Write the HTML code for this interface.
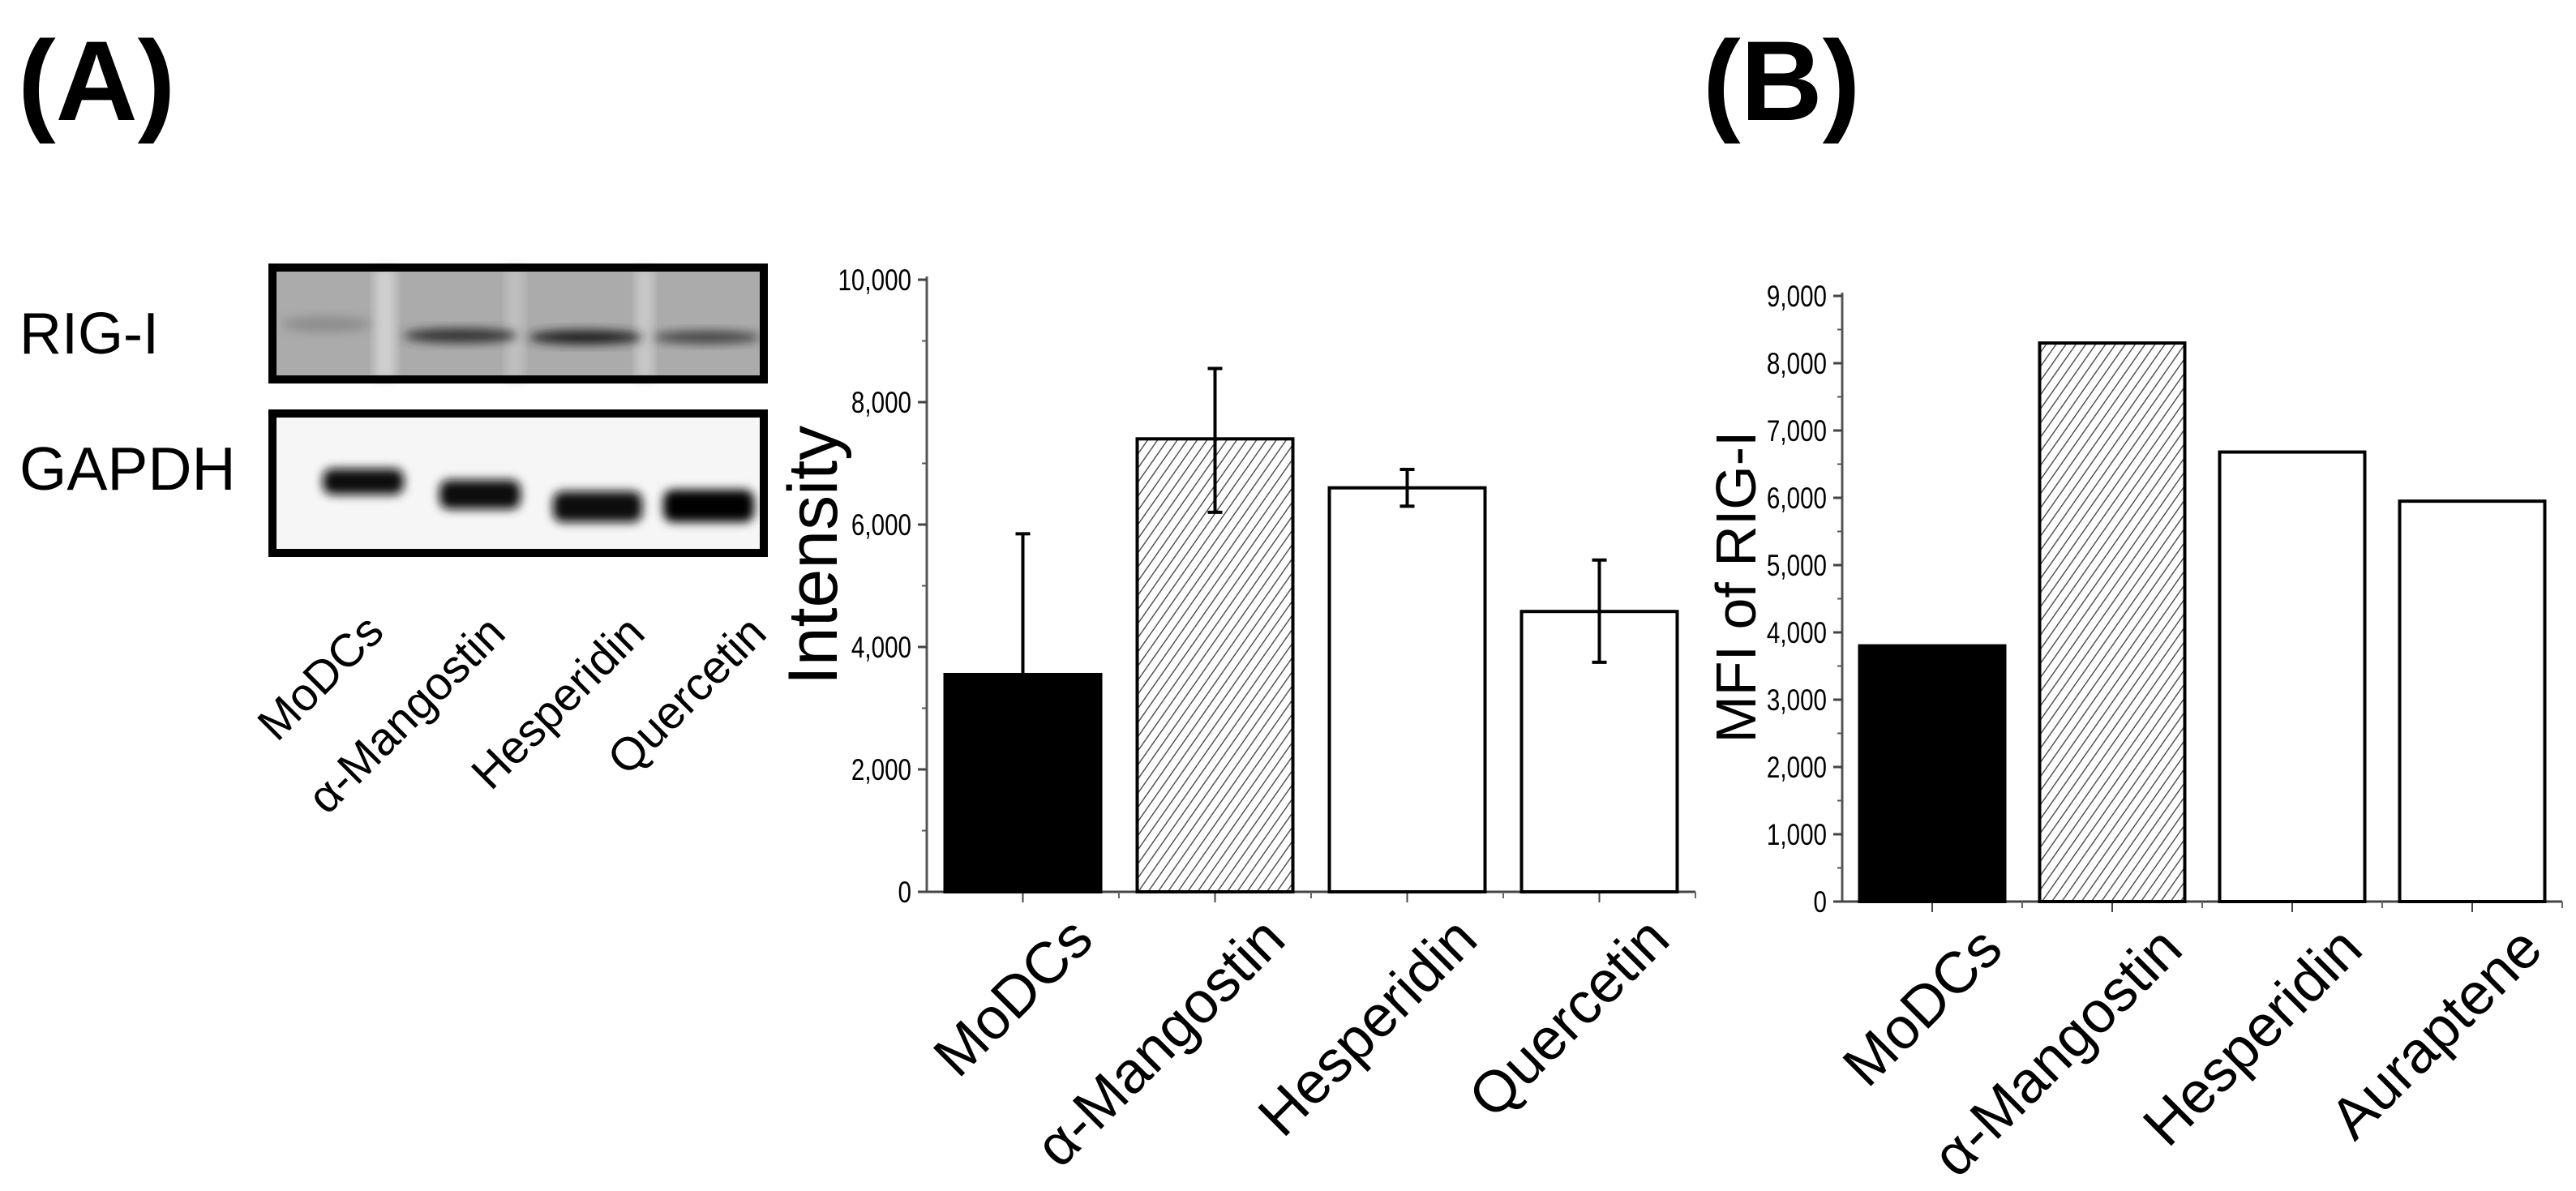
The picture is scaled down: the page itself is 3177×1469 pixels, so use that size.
<!DOCTYPE html>
<html><head><meta charset="utf-8"><style>
html,body{margin:0;padding:0;background:#fff}
svg{display:block}
text{font-family:"Liberation Sans",sans-serif}
.tk{font-size:37px}
</style></head><body>
<svg id="fig" width="3177" height="1469" viewBox="0 0 3177 1469" xmlns="http://www.w3.org/2000/svg">
<defs>
<pattern id="hatch" patternUnits="userSpaceOnUse" width="10" height="10" patternTransform="rotate(35)">
<rect width="10" height="10" fill="#fff"/><line x1="0" y1="0" x2="0" y2="10" stroke="#555" stroke-width="3"/>
</pattern>
<filter id="blur" x="-20%" y="-50%" width="140%" height="200%"><feGaussianBlur stdDeviation="6"/></filter>
</defs>
<text x="22" y="148" font-size="140" font-weight="bold">(A)</text>
<text x="2100" y="148" font-size="140" font-weight="bold">(B)</text>

<g>
<text x="24" y="436" font-size="72">RIG-I</text>
<text x="24" y="604" font-size="75">GAPDH</text>
<g>
<rect x="336" y="330" width="606" height="138" fill="#ababab"/>
<rect x="462" y="330" width="26" height="138" fill="#cfcfcf" filter="url(#blur)"/>
<rect x="624" y="330" width="22" height="138" fill="#c0c0c0" filter="url(#blur)"/>
<rect x="784" y="330" width="22" height="138" fill="#c8c8c8" filter="url(#blur)"/>
<ellipse cx="402" cy="400" rx="55" ry="10" fill="#8e8e8e" filter="url(#blur)"/>
<ellipse cx="568" cy="414" rx="70" ry="9" fill="#333" filter="url(#blur)"/>
<ellipse cx="722" cy="416" rx="70" ry="9" fill="#222" filter="url(#blur)"/>
<ellipse cx="872" cy="416" rx="66" ry="8" fill="#444" filter="url(#blur)"/>
<rect x="336" y="330" width="606" height="138" fill="none" stroke="#000" stroke-width="10"/>
</g>
<g>
<rect x="336" y="510" width="606" height="172" fill="#f6f6f6"/>
<rect x="398" y="578" width="100" height="32" rx="12" fill="#111" filter="url(#blur)"/>
<rect x="542" y="592" width="100" height="36" rx="12" fill="#111" filter="url(#blur)"/>
<rect x="682" y="606" width="110" height="38" rx="12" fill="#0a0a0a" filter="url(#blur)"/>
<rect x="818" y="604" width="112" height="40" rx="12" fill="#050505" filter="url(#blur)"/>
<rect x="336" y="510" width="606" height="172" fill="none" stroke="#000" stroke-width="10"/>
</g>
<g font-size="57">
<text text-anchor="end" transform="translate(476,782) rotate(-45)">MoDCs</text>
<text text-anchor="end" transform="translate(626,784) rotate(-45)">α-Mangostin</text>
<text text-anchor="end" transform="translate(798,784) rotate(-45)">Hesperidin</text>
<text text-anchor="end" transform="translate(948,784) rotate(-45)">Quercetin</text>
</g>
</g>

<g id="chartA"></g>
<g id="chartB"></g>
</svg>
<script>
const catsA = ["MoDCs","α-Mangostin","Hesperidin","Quercetin"];
const valsA = [3550,7400,6600,4580];
const errLoA = [3550,6200,6300,3750];
const errHiA = [5850,8550,6900,5420];
const ticksA = ["0","2,000","4,000","6,000","8,000","10,000"];
const tickValsA = [0,2000,4000,6000,8000,10000];

const catsB = ["MoDCs","α-Mangostin","Hesperidin","Auraptene"];
const valsB = [3800,8300,6680,5950];
const ticksB = ["0","1,000","2,000","3,000","4,000","5,000","6,000","7,000","8,000","9,000"];
const tickValsB = [0,1000,2000,3000,4000,5000,6000,7000,8000,9000];

const NS="http://www.w3.org/2000/svg";
function mk(parent,tag,attrs,txt){const e=document.createElementNS(NS,tag);for(const k in attrs)e.setAttribute(k,attrs[k]);if(txt!==undefined)e.textContent=txt;parent.appendChild(e);return e;}
const fills=["#000","url(#hatch)","#fff","#fff"];

function drawChart(g,cfg,cats,vals,tickVals,tickLabels,lo,hi,prefix){
  const y=v=>cfg.y0-v/cfg.max*(cfg.y0-cfg.yTop);
  const bw=(cfg.xEnd-cfg.x0)/cats.length;
  const x=i=>cfg.x0+bw*i;
  let e=mk(g,"line",{x1:cfg.x0,y1:cfg.yTop-4,x2:cfg.x0,y2:cfg.y0,stroke:"#555","stroke-width":3});
  
  
  e=mk(g,"line",{x1:cfg.x0,y1:cfg.y0,x2:cfg.xEnd,y2:cfg.y0,stroke:"#444","stroke-width":3});
  
  
  for(let i=0;i<tickVals.length;i++){
    const ty=y(tickVals[i]);
    mk(g,"line",{x1:cfg.x0-11,y1:ty,x2:cfg.x0,y2:ty,stroke:"#444","stroke-width":3});
    if(i<tickVals.length-1){const my=y((tickVals[i]+tickVals[i+1])/2);mk(g,"line",{x1:cfg.x0-6,y1:my,x2:cfg.x0,y2:my,stroke:"#555","stroke-width":2});}
    const t=mk(g,"text",{"text-anchor":"end",class:"tk",transform:`translate(${cfg.x0-19},${ty+13}) scale(0.8,1)`},tickLabels[i]);
    
    
  }
  for(let i=0;i<cats.length;i++){
    const cx=x(i)+bw/2;
    mk(g,"line",{x1:cx,y1:cfg.y0,x2:cx,y2:cfg.y0+13,stroke:"#444","stroke-width":2});
    mk(g,"line",{x1:x(i+1),y1:cfg.y0,x2:x(i+1),y2:cfg.y0+8,stroke:"#666","stroke-width":2});
    const b=mk(g,"rect",{x:cx-cfg.barW/2,y:y(vals[i]),width:cfg.barW,height:cfg.y0-y(vals[i]),fill:fills[i],stroke:"#000","stroke-width":4});
    
    
    if(lo){
      const eg=mk(g,"g",{stroke:"#000","stroke-width":4});
      
      
      mk(eg,"line",{x1:cx,y1:y(hi[i]),x2:cx,y2:y(lo[i])});
      mk(eg,"line",{x1:cx-9,y1:y(hi[i]),x2:cx+9,y2:y(hi[i])});
      if(lo[i]!==vals[i])mk(eg,"line",{x1:cx-9,y1:y(lo[i]),x2:cx+9,y2:y(lo[i])});
    }
    const l=mk(g,"text",{"text-anchor":"end","font-size":72,transform:`translate(${cx+90},${cfg.y0+62}) rotate(-45)`},cats[i]);
    
    
  }
  const yt=mk(g,"text",{"text-anchor":"middle","font-size":cfg.titleSize,transform:`translate(${cfg.titleX},${cfg.titleY}) rotate(-90)`},cfg.title);
  
  
}
drawChart(document.getElementById("chartA"),{x0:1143,xEnd:2091,yTop:345,y0:1100,max:10000,barW:192,title:"Intensity",titleSize:86,titleX:1032,titleY:685},catsA,valsA,tickValsA,ticksA,errLoA,errHiA,"intensity");
drawChart(document.getElementById("chartB"),{x0:2272,xEnd:3160,yTop:365,y0:1112,max:9000,barW:179,title:"MFI of RIG-I",titleSize:70,titleX:2165,titleY:724},catsB,valsB,tickValsB,ticksB,null,null,"mfi");
</script>
</body></html>
